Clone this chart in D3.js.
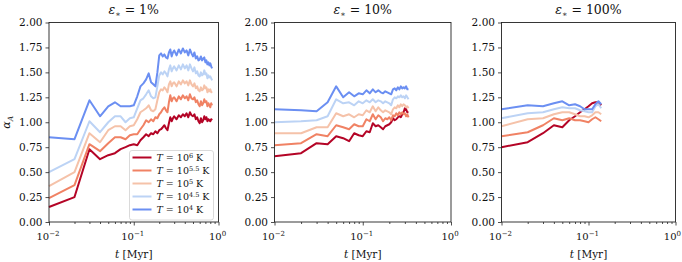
<!DOCTYPE html>
<html>
<head>
<meta charset="utf-8">
<script src="https://cdn.jsdelivr.net/npm/d3@7"></script>
<style>
  body { margin: 0; background: #fff; }
  svg text { font-family: "DejaVu Serif", serif; fill: #111; }
</style>
</head>
<body>
<svg id="chart" width="682" height="262"></svg>
<script>
// time grids (Myr)
const tLong = [0.01,0.02,0.03,0.04,0.05,0.06,0.07,0.08,0.09,0.10,
  0.11,0.12,0.13,0.14,0.15,0.16,0.17,0.18,0.19,0.20,
  0.21,0.22,0.23,0.24,0.25,0.26,0.27,0.28,0.29,0.30,
  0.32,0.34,0.36,0.38,0.40,0.42,0.44,0.46,0.48,0.50,0.52,0.54,0.56,0.58,0.60,
  0.62,0.64,0.66,0.68,0.70,0.72,0.74,0.76,0.78,0.80,0.82,0.84];
const tMid = [0.01,0.02,0.03,0.04,0.05,0.06,0.07,0.08,0.09,0.10,
  0.11,0.12,0.13,0.14,0.15,0.16,0.17,0.18,0.19,0.20,
  0.21,0.22,0.23,0.24,0.25,0.26,0.27,0.28,0.29,0.30,0.31,0.32,0.33];
const tShort = [0.01,0.02,0.03,0.04,0.05,0.06,0.07,0.08,0.09,0.10,0.11,0.12,0.13,0.14];

// eps = 1%
const p1_T6 = [.15,.25,.73,.63,.67,.69,.73,.75,.77,.78, .77,.82,.85,.88,.86,.89,.88,.91,.89,.92,
  .93,.95,.97,.94,.92,.99,1.05,1.01,1.04,1.06,
  1.03,1.07,1.05,1.08,1.06,1.09,1.05,1.10,1.07,1.06,1.08,1.03,1.05,1.01,.99,1.04,1.00,1.02,1.06,1.03,1.05,1.01,1.03,1.02,1.01,1.03,1.02];
const p1_T55 = [.24,.37,.78,.71,.79,.85,.85,.83,.87,.88, .88,.93,.97,1.02,1.00,1.03,1.01,1.05,1.04,1.08,
  1.10,1.13,1.15,1.12,1.10,1.20,1.27,1.21,1.24,1.25,
  1.21,1.26,1.23,1.27,1.24,1.26,1.22,1.28,1.24,1.23,1.25,1.20,1.22,1.18,1.16,1.21,1.17,1.19,1.23,1.20,1.21,1.16,1.19,1.17,1.15,1.19,1.17];
const p1_T5 = [.36,.50,.89,.80,.92,.96,.96,.92,.96,.97, 1.03,1.10,1.12,1.14,1.17,1.12,1.11,1.13,1.22,1.30,
  1.33,1.32,1.35,1.33,1.30,1.38,1.41,1.36,1.39,1.40,
  1.36,1.41,1.38,1.42,1.39,1.41,1.37,1.42,1.38,1.36,1.39,1.34,1.36,1.32,1.31,1.35,1.32,1.33,1.37,1.34,1.35,1.30,1.33,1.31,1.33,1.30,1.31];
const p1_T45 = [.50,.63,1.01,.90,1.00,1.06,1.06,1.00,1.04,1.05, 1.14,1.22,1.24,1.28,1.32,1.26,1.24,1.25,1.36,1.47,
  1.50,1.48,1.51,1.49,1.46,1.53,1.57,1.51,1.54,1.56,
  1.52,1.57,1.53,1.58,1.54,1.57,1.52,1.58,1.54,1.51,1.55,1.49,1.51,1.47,1.46,1.50,1.47,1.48,1.52,1.48,1.49,1.44,1.47,1.45,1.46,1.44,1.42];
const p1_T4 = [.85,.83,1.22,1.06,1.16,1.20,1.16,1.16,1.16,1.17, 1.26,1.36,1.39,1.43,1.49,1.40,1.38,1.36,1.50,1.67,
  1.69,1.66,1.68,1.65,1.64,1.70,1.73,1.66,1.70,1.72,
  1.67,1.73,1.69,1.74,1.70,1.72,1.67,1.73,1.69,1.66,1.70,1.64,1.66,1.62,1.63,1.66,1.62,1.64,1.65,1.60,1.62,1.58,1.60,1.57,1.59,1.56,1.54];

// eps = 10%
const p2_T6 = [.66,.69,.79,.78,.86,.84,.81,.89,.87,.86, .91,.90,.99,.96,.97,.95,.93,.96,.97,.98,
  1.00,1.04,1.02,1.03,1.05,1.06,1.05,1.08,1.10,1.14, 1.13,1.10,1.10];
const p2_T55 = [.77,.79,.88,.86,.97,.95,.93,.98,.96,.96, 1.03,1.01,1.08,1.03,1.07,1.05,1.01,1.04,1.03,1.05,
  1.02,1.07,1.06,1.09,1.07,1.10,1.08,1.10,1.08,1.09, 1.06,1.08,1.05];
const p2_T5 = [.89,.89,.95,.95,1.09,1.06,1.08,1.05,1.08,1.07, 1.12,1.10,1.16,1.11,1.15,1.12,1.10,1.12,1.11,1.10,
  1.08,1.13,1.15,1.14,1.17,1.15,1.18,1.16,1.18,1.17, 1.15,1.16,1.14];
const p2_T45 = [1.00,1.01,1.02,1.06,1.23,1.19,1.20,1.17,1.21,1.19, 1.22,1.20,1.23,1.20,1.22,1.21,1.19,1.21,1.20,1.19,
  1.17,1.23,1.25,1.24,1.26,1.25,1.27,1.25,1.26,1.24, 1.27,1.25,1.23];
const p2_T4 = [1.13,1.12,1.11,1.20,1.36,1.25,1.30,1.26,1.29,1.28, 1.32,1.29,1.33,1.30,1.32,1.30,1.29,1.31,1.30,1.29,
  1.28,1.33,1.34,1.32,1.35,1.33,1.36,1.34,1.35,1.34, 1.36,1.33,1.33];

// eps = 100%
const p3_T6 = [.75,.80,.89,.97,.95,1.02,1.06,1.10,1.13,1.16,1.19,1.20,1.20,1.17];
const p3_T55 = [.86,.90,.97,1.04,1.02,1.04,1.02,1.02,1.01,1.00,1.03,1.05,1.03,1.01];
const p3_T5 = [.96,1.03,1.04,1.08,1.10,1.10,1.08,1.06,1.06,1.05,1.07,1.10,1.10,1.08];
const p3_T45 = [1.04,1.09,1.10,1.13,1.15,1.14,1.14,1.12,1.11,1.10,1.10,1.16,1.18,1.14];
const p3_T4 = [1.13,1.17,1.16,1.19,1.21,1.17,1.18,1.16,1.13,1.13,1.13,1.18,1.21,1.18];

const tempExps = ["6", "5.5", "5", "4.5", "4"];
const colors = ["#b40426", "#f08264", "#f5c2a9", "#bcd3f5", "#6b8ff2"];
const yTicks = [0, 0.25, 0.5, 0.75, 1.0, 1.25, 1.5, 1.75, 2.0];
const xMajor = [0.01, 0.1, 1];
const xMajorExp = ["\u22122", "\u22121", "0"];

const panels = [
  { pct: "1%", left: 49, right: 218.5, t: tLong, series: [p1_T6, p1_T55, p1_T5, p1_T45, p1_T4] },
  { pct: "10%", left: 274.5, right: 451, t: tMid, series: [p2_T6, p2_T55, p2_T5, p2_T45, p2_T4] },
  { pct: "100%", left: 501.5, right: 675.5, t: tShort, series: [p3_T6, p3_T55, p3_T5, p3_T45, p3_T4] },
];
const plotTop = 22.5, plotBottom = 222;

const svg = d3.select("#chart");

const y = d3.scaleLinear().domain([0, 2]).range([plotBottom, plotTop]);

const minorTicks = [];
[0.01, 0.1].forEach(d => { for (let k = 2; k <= 9; k++) minorTicks.push(d * k); });

panels.forEach((p, pi) => {
  const x = d3.scaleLog().domain([0.01, 1]).range([p.left, p.right]);
  const g = svg.append("g");

  // lines
  const line = d3.line().x(d => x(d[0])).y(d => y(d[1]));
  p.series.forEach((vals, si) => {
    g.append("path")
      .datum(p.t.map((t, i) => [t, vals[i]]))
      .attr("fill", "none")
      .attr("stroke", colors[si])
      .attr("stroke-width", 2)
      .attr("stroke-linejoin", "round")
      .attr("d", line);
  });

  // y axis
  const yAxis = d3.axisLeft(y).tickValues(yTicks).tickSize(3.5).tickPadding(3)
    .tickFormat(d3.format(".2f"));
  const ya = g.append("g").attr("transform", `translate(${p.left},0)`).call(yAxis);
  ya.select(".domain").remove();
  ya.selectAll("text").style("font-size", "10.5px").attr("fill", "#111");

  // x axis minor
  const xMinor = d3.axisBottom(x).tickValues(minorTicks).tickSize(2).tickFormat("");
  const xm = g.append("g").attr("transform", `translate(0,${plotBottom})`).call(xMinor);
  xm.select(".domain").remove();
  // x axis major
  const xAxis = d3.axisBottom(x).tickValues(xMajor).tickSize(3.5).tickFormat("");
  const xa = g.append("g").attr("transform", `translate(0,${plotBottom})`).call(xAxis);
  xa.select(".domain").remove();
  g.selectAll(".tick line").attr("stroke", "#222").attr("stroke-width", 0.8);

  xMajor.forEach((v, i) => {
    const tx = g.append("text")
      .attr("x", x(v) - 1)
      .attr("y", 240)
      .attr("text-anchor", "middle")
      .style("font-size", "10px");
    tx.append("tspan").text("10");
    tx.append("tspan").attr("dy", -4).style("font-size", "7px").text(xMajorExp[i]);
    // keep the label inside the picture
    const w = tx.node().getComputedTextLength();
    const cx = Math.min(x(v) - 1, 681 - w / 2);
    tx.attr("x", cx);
  });

  // frame
  g.append("rect")
    .attr("x", p.left).attr("y", plotTop)
    .attr("width", p.right - p.left).attr("height", plotBottom - plotTop)
    .attr("fill", "none").attr("stroke", "#222").attr("stroke-width", 0.9);

  // title
  const title = g.append("text")
    .attr("x", (p.left + p.right) / 2)
    .attr("y", 14)
    .attr("text-anchor", "middle")
    .style("font-size", "12.5px");
  title.append("tspan").style("font-style", "italic").text("\u03b5");
  title.append("tspan").attr("dy", 3).style("font-size", "8px").text("\u2217");
  title.append("tspan").attr("dy", -3).text(" = " + p.pct);

  // x label
  const xl = g.append("text")
    .attr("x", (p.left + p.right) / 2)
    .attr("y", 258)
    .attr("text-anchor", "middle")
    .style("font-size", "10.5px");
  xl.append("tspan").style("font-style", "italic").text("t");
  xl.append("tspan").text(" [Myr]");

  if (pi === 0) {
    // y label
    const yl = svg.append("text")
      .attr("transform", `translate(10,${(plotTop + plotBottom) / 2}) rotate(-90)`)
      .attr("text-anchor", "middle")
      .style("font-size", "11px");
    yl.append("tspan").style("font-style", "italic").text("\u03b1");
    yl.append("tspan").attr("dy", 3).style("font-size", "7.5px").style("font-style", "italic").text("A");

    // legend
    const lx = 129.5, ly = 150.5;
    const lg = g.append("g");
    lg.append("rect")
      .attr("x", lx).attr("y", ly).attr("width", 84).attr("height", 69.5)
      .attr("rx", 2.5).attr("fill", "#fff").attr("fill-opacity", 0.85)
      .attr("stroke", "#d0d0d0").attr("stroke-width", 0.8);
    tempExps.forEach((e, i) => {
      const ry = ly + 7 + i * 13;
      lg.append("line")
        .attr("x1", lx + 3).attr("x2", lx + 22)
        .attr("y1", ry).attr("y2", ry)
        .attr("stroke", colors[i]).attr("stroke-width", 2);
      const lt = lg.append("text")
        .attr("x", lx + 27).attr("y", ry + 3.5)
        .style("font-size", "9.5px");
      lt.append("tspan").style("font-style", "italic").text("T");
      lt.append("tspan").text(" = 10");
      lt.append("tspan").attr("dy", -3.5).style("font-size", "6.5px").text(e);
      lt.append("tspan").attr("dy", 3.5).text(" K");
    });
  }
});
</script>
</body>
</html>
